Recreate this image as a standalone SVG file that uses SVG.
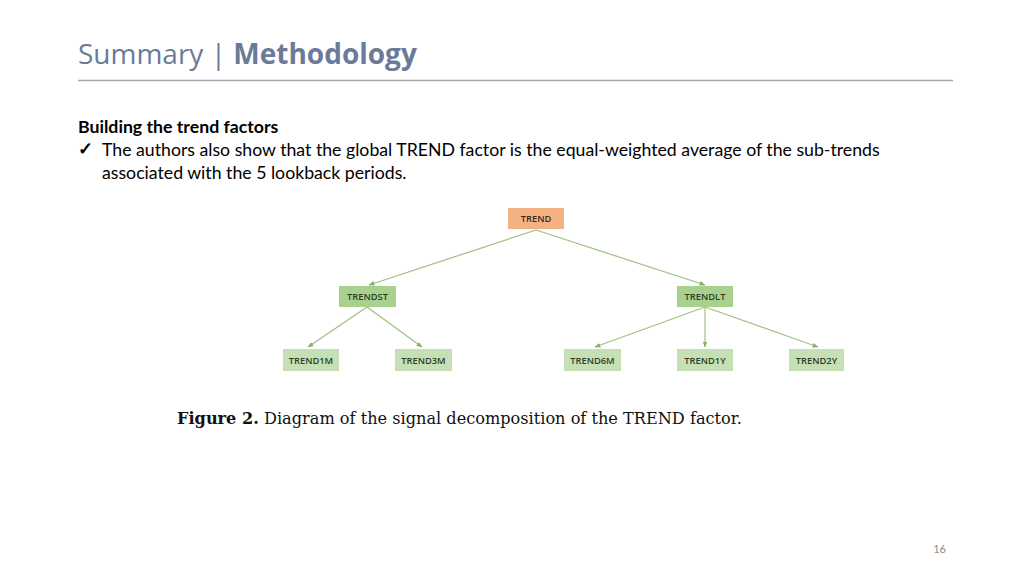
<svg xmlns="http://www.w3.org/2000/svg" width="1024" height="575" viewBox="0 0 1024 575">
<defs>
<style>
.title{font-family:"Open Sans","Noto Sans",sans-serif;font-size:28px;fill:#6b7a99}
.body{font-family:Lato,"Noto Sans",sans-serif;font-size:17.7px;fill:#000}
.node text{font-family:"Open Sans","Noto Sans",sans-serif;font-size:9.3px;font-weight:600;text-anchor:middle}
.root rect{fill:#f4b183}
.mid rect{fill:#a9d18e}
.leaf rect{fill:#c5e0b4}
.root text{fill:#3b2a1f}
.mid text,.leaf text{fill:#2e3d26}
.edge{stroke:#9dc17f;stroke-width:1.2;fill:none;marker-end:url(#arr)}
.cap{font-family:"DejaVu Serif","Liberation Serif",serif;font-size:16.15px;fill:#111}
</style>
<marker id="arr" viewBox="0 0 10 10" refX="9" refY="5" markerWidth="6" markerHeight="6" orient="auto" markerUnits="userSpaceOnUse">
<path d="M0,1 L10,5 L0,9 Z" fill="#86b065"/>
</marker>
</defs>
<rect width="1024" height="575" fill="#fff"/>
<text class="title" x="78" y="64">Summary | <tspan font-weight="bold">Methodology</tspan></text>
<line x1="78" y1="80.5" x2="953" y2="80.5" stroke="#a6a6a6" stroke-width="1.5"/>
<text class="body" x="78" y="133" font-weight="bold">Building the trend factors</text>
<text class="body" x="78" y="155" font-size="15" font-weight="bold">✓</text>
<text class="body" x="102" y="156">The authors also show that the global TREND factor is the equal-weighted average of the sub-trends</text>
<text class="body" x="102" y="179">associated with the 5 lookback periods.</text>
<g id="connectors">
<line class="edge" x1="536" y1="230" x2="369" y2="285"/>
<line class="edge" x1="536" y1="230" x2="705" y2="285"/>
<line class="edge" x1="367" y1="307" x2="308" y2="347"/>
<line class="edge" x1="367" y1="307" x2="422" y2="347"/>
<line class="edge" x1="705" y1="307" x2="595" y2="347"/>
<line class="edge" x1="705" y1="307" x2="705" y2="347"/>
<line class="edge" x1="705" y1="307" x2="818" y2="347"/>
</g>
<g id="TREND" class="node root"><rect x="508" y="208" width="56" height="21"/><text x="536" y="222">TREND</text></g>
<g id="TRENDST" class="node mid"><rect x="339" y="286" width="57" height="21"/><text x="367.5" y="300">TRENDST</text></g>
<g id="TRENDLT" class="node mid"><rect x="677" y="286" width="56" height="21"/><text x="705" y="300">TRENDLT</text></g>
<g id="TREND1M" class="node leaf"><rect x="283" y="349" width="56" height="22"/><text x="311" y="363.5">TREND1M</text></g>
<g id="TREND3M" class="node leaf"><rect x="395" y="349" width="57" height="22"/><text x="423.5" y="363.5">TREND3M</text></g>
<g id="TREND6M" class="node leaf"><rect x="564" y="349" width="57" height="22"/><text x="592.5" y="363.5">TREND6M</text></g>
<g id="TREND1Y" class="node leaf"><rect x="677" y="349" width="56" height="22"/><text x="705" y="363.5">TREND1Y</text></g>
<g id="TREND2Y" class="node leaf"><rect x="789" y="349" width="55" height="22"/><text x="816.5" y="363.5">TREND2Y</text></g>
<text class="cap" x="177" y="424"><tspan font-weight="bold">Figure 2.</tspan> Diagram of the signal decomposition of the TREND factor.</text>
<text x="946" y="553" text-anchor="end" font-family="Lato,'Noto Sans',sans-serif" font-size="11" fill="#8c8c8c">16</text>
</svg>
